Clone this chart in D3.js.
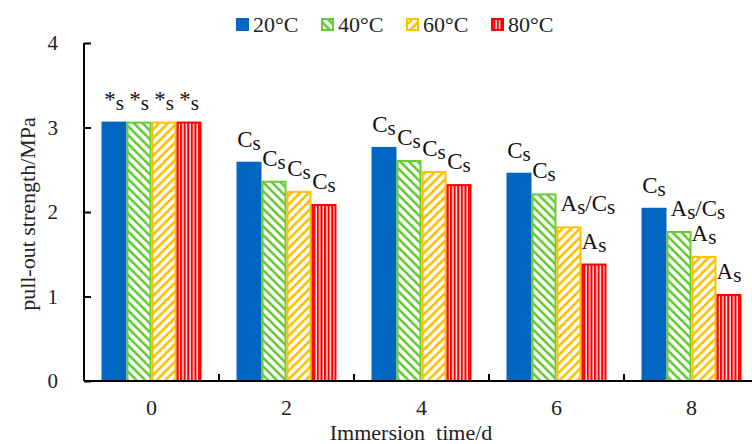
<!DOCTYPE html>
<html><head><meta charset="utf-8">
<script src="https://cdn.jsdelivr.net/npm/d3@7"></script>
<style>body{margin:0;background:#fff}svg{display:block}</style>
</head><body>
<svg id="chart" width="752" height="444"></svg>
<script>
const categories = ["0", "2", "4", "6", "8"];
const seriesNames = ["20°C", "40°C", "60°C", "80°C"];
const s20 = [3.07, 2.595, 2.77, 2.465, 2.05];
const s40 = [3.07, 2.37, 2.615, 2.22, 1.775];
const s60 = [3.07, 2.25, 2.485, 1.83, 1.48];
const s80 = [3.07, 2.095, 2.33, 1.39, 1.03];
const lab20 = ["*s", "Cs", "Cs", "Cs", "Cs"];
const lab40 = ["*s", "Cs", "Cs", "Cs", "As/Cs"];
const lab60 = ["*s", "Cs", "Cs", "As/Cs", "As"];
const lab80 = ["*s", "Cs", "Cs", "As", "As"];
const yTicks = [0, 1, 2, 3, 4];

const values = [s20, s40, s60, s80];
const labels = [lab20, lab40, lab60, lab80];
const colors = ["#0066C2", "#66CC33", "#FFC000", "#FF0000"];
const fills = ["#0066C2", "url(#pGreen)", "url(#pYellow)", "url(#pRed)"];

const svg = d3.select("#chart");
const font = "'Liberation Serif', 'Times New Roman', serif";

// patterns
const defs = svg.append("defs");
function stripes(id, color, angle, w, sw) {
  const p = defs.append("pattern").attr("id", id).attr("patternUnits", "userSpaceOnUse")
    .attr("width", w).attr("height", w);
  if (angle !== 0) p.attr("patternTransform", `rotate(${angle})`);
  p.append("rect").attr("width", w).attr("height", w).attr("fill", "#fff");
  p.append("rect").attr("width", sw).attr("height", w).attr("fill", color);
}
stripes("pGreen", colors[1], -45, 6.2, 2.6);
stripes("pYellow", colors[2], 45, 6.2, 2.6);
stripes("pRed", colors[3], 0, 3.6, 2.2);

const x0 = d3.scaleBand().domain(categories).range([84, 759]).paddingInner(0).paddingOuter(0);
const x1 = d3.scaleBand().domain(d3.range(4)).range([17.5, 117.5]);
const y = d3.scaleLinear().domain([0, 4]).range([381, 43]);

// bars
const data = [];
categories.forEach((c, i) => values.forEach((s, j) => data.push({c, i, j, v: s[i], lab: labels[j][i]})));

svg.append("g").selectAll("rect").data(data).join("rect")
  .attr("x", d => x0(d.c) + x1(d.j) + (d.j ? 1 : 0))
  .attr("y", d => y(d.v) + (d.j ? 1 : 0))
  .attr("width", d => x1.bandwidth() - (d.j ? 2 : 0))
  .attr("height", d => y(0) - y(d.v) - (d.j ? 1 : 0))
  .attr("fill", d => fills[d.j])
  .attr("stroke", d => d.j ? colors[d.j] : "none")
  .attr("stroke-width", 2);

// axes
const yAxis = d3.axisLeft(y).tickValues(yTicks).tickSize(-7).tickPadding(26).tickFormat(d3.format("d"));
const gy = svg.append("g").attr("transform", "translate(84,0)").call(yAxis);
gy.select(".domain").attr("stroke", "#000").attr("stroke-width", 2).attr("d", "M0,43V381");
gy.selectAll(".tick line").attr("stroke", "#000").attr("stroke-width", 2);
gy.selectAll(".tick text").attr("font-family", font).attr("font-size", 21).attr("fill", "#222");

const xb = d3.axisBottom(x0).tickSize(0).tickPadding(18);
const gx = svg.append("g").attr("transform", "translate(0,381)").call(xb);
gx.select(".domain").attr("stroke", "#000").attr("stroke-width", 2).attr("d", "M84,0H760");
gx.selectAll(".tick text").attr("font-family", font).attr("font-size", 22).attr("fill", "#222");
// boundary ticks
svg.append("g").selectAll("line").data(categories.slice(1)).join("line")
  .attr("x1", d => x0(d)).attr("x2", d => x0(d))
  .attr("y1", 381).attr("y2", 374).attr("stroke", "#000").attr("stroke-width", 2);

// data labels
const lg = svg.append("g").attr("font-family", font).attr("font-size", 23).attr("fill", "#111");
data.forEach(d => {
  const bx = x0(d.c) + x1(d.j);
  const long = d.lab.includes("/");
  const t = lg.append("text")
    .attr("x", long ? bx + 4 : bx + x1.bandwidth() / 2)
    .attr("y", y(d.v) - 15)
    .attr("text-anchor", long ? "start" : "middle");
  d.lab.split("/").forEach((part, k) => {
    t.append("tspan").attr("dy", k ? -3 : 0).text((k ? "/" : "") + part[0]);
    t.append("tspan").attr("dy", 3).attr("font-size", 21).text(part.slice(1));
  });
});

// axis titles
svg.append("text").attr("x", 411).attr("y", 440).attr("text-anchor", "middle")
  .attr("font-family", font).attr("font-size", 22).attr("fill", "#222")
  .style("white-space", "pre").text("Immersion  time/d");
svg.append("text").attr("transform", "translate(35,214) rotate(-90)").attr("text-anchor", "middle")
  .attr("font-family", font).attr("font-size", 22).attr("fill", "#222").text("pull-out strength/MPa");

// legend
const leg = svg.append("g");
seriesNames.forEach((n, j) => {
  const lx = 236 + j * 85;
  leg.append("rect").attr("x", lx + (j ? 1 : 0)).attr("y", 18 + (j ? 1 : 0))
    .attr("width", 13 - (j ? 2 : 0)).attr("height", 13 - (j ? 2 : 0))
    .attr("fill", fills[j]).attr("stroke", j ? colors[j] : "none").attr("stroke-width", 2);
  leg.append("text").attr("x", lx + 17).attr("y", 32).attr("font-family", font)
    .attr("font-size", 22).attr("fill", "#222").text(n);
});
</script>
</body></html>
